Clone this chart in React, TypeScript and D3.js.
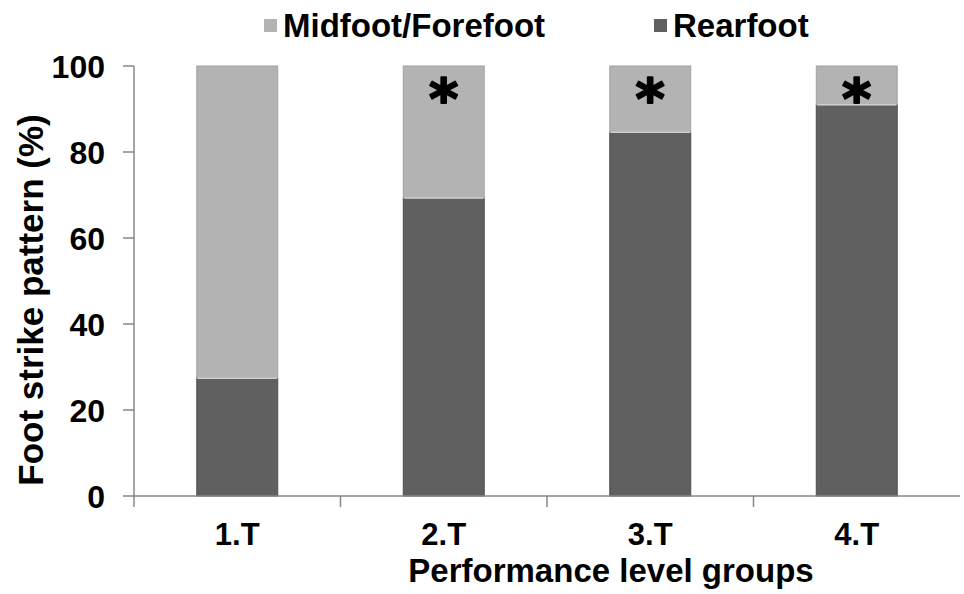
import React from "react";
import * as d3 from "d3";

const categories = ["1.T", "2.T", "3.T", "4.T"];
const rearfoot = [27.4, 69.3, 84.6, 91.0];
const midfoot = [72.6, 30.7, 15.4, 9.0];
const significant = [false, true, true, true];
const yTicks = [0, 20, 40, 60, 80, 100];
const seriesNames = ["Midfoot/Forefoot", "Rearfoot"];
const seriesColors = ["#b3b3b3", "#606060"];
const seriesStrokes = ["#a2a2a2", "#4e4e4e"];

const W = 964;
const H = 594;
const FONT = "'Liberation Sans', Arial, Helvetica, sans-serif";
const AXIS = "#878787";

export default function App() {
  const x = d3.scaleBand<string>().domain(categories).range([134, 960]).padding(0);
  const y = d3.scaleLinear().domain([0, 100]).range([496, 66]);
  const barW = x.bandwidth() * 0.392;

  const stacked = d3.stack<any>().keys(["rear", "mid"])(
    categories.map((c, i) => ({ cat: c, rear: rearfoot[i], mid: midfoot[i] }))
  );

  return (
    <svg width={W} height={H} style={{ position: "absolute", left: 0, top: 0, background: "#fff" }} fontFamily={FONT}>
      <rect x={0} y={0} width={W} height={H} fill="#fff" />
      {/* bars */}
      {stacked.map((layer, li) => {
        const ci = li === 0 ? 1 : 0;
        return (
          <g key={layer.key}>
            {layer.map((d, i) => {
              const cx = (x(categories[i]) as number) + x.bandwidth() / 2;
              return (
                <rect
                  key={i}
                  x={cx - barW / 2}
                  y={y(d[1])}
                  width={barW}
                  height={y(d[0]) - y(d[1])}
                  fill={seriesColors[ci]}
                  stroke={seriesStrokes[ci]}
                  strokeWidth={1}
                />
              );
            })}
          </g>
        );
      })}
      {/* segment separators */}
      {categories.map((c, i) => {
        const cx = (x(c) as number) + x.bandwidth() / 2;
        return (
          <line key={c} x1={cx - barW / 2 + 1} x2={cx + barW / 2 - 1} y1={y(rearfoot[i])} y2={y(rearfoot[i])} stroke="#d0d0d0" strokeWidth={1.5} />
        );
      })}
      {/* asterisks */}
      {categories.map((c, i) =>
        significant[i] ? (
          <text key={c} x={(x(c) as number) + x.bandwidth() / 2} y={y(100) + 52} textAnchor="middle" fontSize={56} fontWeight="bold" fontFamily="'DejaVu Sans', sans-serif" fill="#000" stroke="#000" strokeWidth={2} strokeLinejoin="round">
            *
          </text>
        ) : null
      )}
      {/* y axis */}
      <line x1={134} x2={134} y1={y(100)} y2={507} stroke={AXIS} strokeWidth={1.5} />
      {yTicks.map((t) => (
        <g key={t}>
          <line x1={123} x2={134} y1={y(t)} y2={y(t)} stroke={AXIS} strokeWidth={1.5} />
          <text x={105} y={y(t)} dy="0.36em" textAnchor="end" fontSize={32} fontWeight="bold" fill="#000">
            {t}
          </text>
        </g>
      ))}
      {/* x axis */}
      <line x1={134} x2={960} y1={y(0)} y2={y(0)} stroke={AXIS} strokeWidth={1.5} />
      {categories.map((c, i) => (
        <g key={c}>
          {i > 0 && <line x1={x(c)} x2={x(c)} y1={y(0)} y2={507} stroke={AXIS} strokeWidth={1.5} />}
          <text x={(x(c) as number) + x.bandwidth() / 2} y={545} textAnchor="middle" fontSize={31} fontWeight="bold" fill="#000">
            {c}
          </text>
        </g>
      ))}
      {/* axis titles */}
      <text x={611} y={582} textAnchor="middle" fontSize={33} fontWeight="bold" fill="#000">
        Performance level groups
      </text>
      <text transform={`translate(43, 300) rotate(-90)`} textAnchor="middle" fontSize={35} fontWeight="bold" fill="#000">
        Foot strike pattern (%)
      </text>
      {/* legend */}
      <rect x={264} y={19} width={13} height={13} fill={seriesColors[0]} />
      <text x={283} y={37} fontSize={33} fontWeight="bold" fill="#000">
        {seriesNames[0]}
      </text>
      <rect x={654} y={19} width={13} height={13} fill={seriesColors[1]} />
      <text x={673} y={37} fontSize={33} fontWeight="bold" fill="#000">
        {seriesNames[1]}
      </text>
    </svg>
  );
}
